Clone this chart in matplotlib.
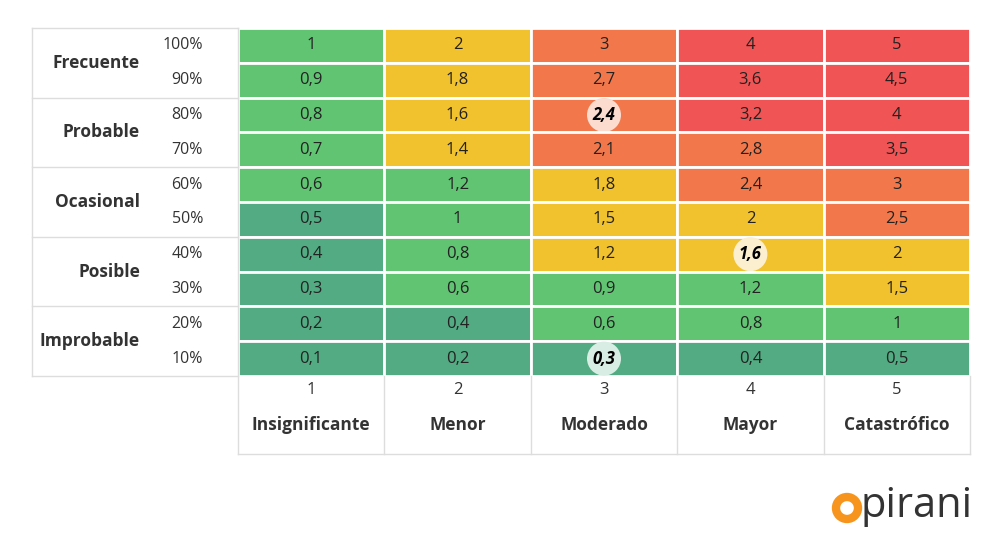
import matplotlib.pyplot as plt
from matplotlib import patches

probabilities = ["100%", "90%", "80%", "70%", "60%", "50%", "40%", "30%", "20%", "10%"]
prob_values = [1.0, 0.9, 0.8, 0.7, 0.6, 0.5, 0.4, 0.3, 0.2, 0.1]
categories = ["Frecuente", "Probable", "Ocasional", "Posible", "Improbable"]
impacts = [1, 2, 3, 4, 5]
impact_names = ["Insignificante", "Menor", "Moderado", "Mayor", "Catastrófico"]
# colour level per cell: 0 dark green, 1 green, 2 yellow, 3 orange, 4 red
levels = [
    [1, 2, 3, 4, 4],
    [1, 2, 3, 4, 4],
    [1, 2, 3, 4, 4],
    [1, 2, 3, 3, 4],
    [1, 1, 2, 3, 3],
    [0, 1, 2, 2, 3],
    [0, 1, 2, 2, 2],
    [0, 1, 1, 1, 2],
    [0, 0, 1, 1, 1],
    [0, 0, 0, 0, 0],
]
highlights = {(2, 2): "#FCDCCF", (6, 3): "#FBEFCF", (9, 2): "#D8EEE4"}

palette = ["#52AB82", "#60C473", "#F2C12E", "#F2774B", "#F05454"]
grey = "#DDDDDD"


def fmt(v):
    s = f"{v:.1f}".rstrip("0").rstrip(".")
    return s.replace(".", ",")


fig = plt.figure(figsize=(10, 5.52), dpi=100)
ax = fig.add_axes([0, 0, 1, 1])
ax.set_xlim(0, 1000)
ax.set_ylim(552, 0)
ax.set_axis_off()

x0, x1 = 238, 970
y0, y1 = 28, 376
cw = (x1 - x0) / 5
rh = (y1 - y0) / 10

for i, p in enumerate(prob_values):
    for j, imp in enumerate(impacts):
        x = x0 + j * cw
        y = y0 + i * rh
        ax.add_patch(patches.Rectangle((x, y), cw, rh, facecolor=palette[levels[i][j]],
                                       edgecolor="white", lw=2))
        v = fmt(p * imp)
        cx, cy = x + cw / 2, y + rh / 2
        if (i, j) in highlights:
            ax.add_patch(patches.Ellipse((cx, cy), 34, 34, facecolor=highlights[(i, j)], edgecolor="none"))
            ax.text(cx, cy, v, ha="center", va="center", fontsize=12, fontweight="bold",
                    style="italic", family="Open Sans", color="black")
        else:
            ax.text(cx, cy, v, ha="center", va="center", fontsize=12, family="Open Sans", color="#222222")
    ax.text(203, y0 + (i + 0.5) * rh, probabilities[i], ha="right", va="center",
            fontsize=11.5, family="Open Sans", color="#333333")

# left category labels
for k, c in enumerate(categories):
    yt = y0 + k * 2 * rh
    ax.plot([32, x0], [yt, yt], color=grey, lw=1)
    ax.text(140, yt + rh, c, ha="right", va="center", fontsize=12.5, fontweight="bold",
            family="Open Sans", color="#333333")
ax.plot([32, x0], [y1, y1], color=grey, lw=1)
ax.plot([32, 32], [y0, y1], color=grey, lw=1)
ax.plot([x0, x0], [y0, 454], color=grey, lw=1)

# bottom impact labels
for j, (n, name) in enumerate(zip(impacts, impact_names)):
    x = x0 + j * cw
    ax.plot([x + cw, x + cw], [y1, 454], color=grey, lw=1)
    ax.text(x + cw / 2, 390, str(n), ha="center", va="center", fontsize=12,
            family="Open Sans", color="#333333")
    ax.text(x + cw / 2, 425, name, ha="center", va="center", fontsize=12.5, fontweight="bold",
            family="Open Sans", color="#333333")
ax.plot([x0, x1], [454, 454], color=grey, lw=1)

# logo
ax.add_patch(patches.Circle((847, 508), 11, facecolor="none", edgecolor="#F7941D", lw=6))
ax.text(861, 506, "pirani", ha="left", va="center", fontsize=30, family="Open Sans",
        color="#333333")

fig.savefig("out.png", dpi=100)
